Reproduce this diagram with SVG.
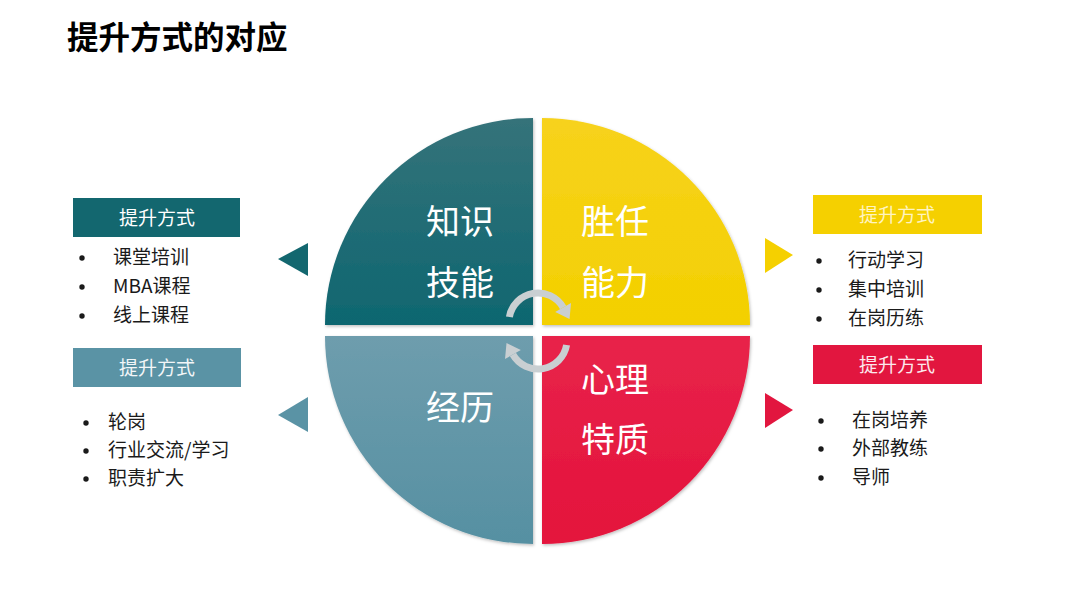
<svg xmlns="http://www.w3.org/2000/svg" width="1080" height="608" viewBox="0 0 1080 608">
<style>
.t{font-family:"Noto Sans CJK SC","Liberation Sans",sans-serif}
.title{font-size:31.5px;font-weight:bold;fill:#000}
.q{font-size:34px;fill:#fff;text-anchor:middle}
.bh{font-size:19px;text-anchor:middle}
.li{font-size:19px;fill:#1a1a1a}
.bu{fill:#1a1a1a}
.arc{fill:none;stroke:#C9CFD2;stroke-width:7}
.ah{fill:#C9CFD2}
</style>
<defs>
<linearGradient id="gTeal" x1="0" y1="0" x2="0" y2="1"><stop offset="0" stop-color="#35737A"/><stop offset="1" stop-color="#0E6670"/></linearGradient>
<linearGradient id="gYel" x1="0" y1="0" x2="0" y2="1"><stop offset="0" stop-color="#F7D21C"/><stop offset="1" stop-color="#F3D000"/></linearGradient>
<linearGradient id="gRed" x1="0" y1="0" x2="0" y2="1"><stop offset="0" stop-color="#E8244A"/><stop offset="1" stop-color="#E4123C"/></linearGradient>
<linearGradient id="gBlue" x1="0" y1="0" x2="0" y2="1"><stop offset="0" stop-color="#6E9DAD"/><stop offset="1" stop-color="#5690A2"/></linearGradient>
<filter id="sh" x="-10%" y="-10%" width="120%" height="120%"><feDropShadow dx="1" dy="1.5" stdDeviation="1.5" flood-color="#000" flood-opacity="0.25"/></filter>
</defs>
<rect width="1080" height="608" fill="#fff"/>
<text class="t title" x="67" y="49">提升方式的对应</text>

<g id="quad-knowledge">
<path d="M533,325 L325,325 A208,207 0 0 1 533,118 Z" fill="url(#gTeal)" filter="url(#sh)"/>
<text class="t q" x="460" y="234">知识</text>
<text class="t q" x="460" y="295">技能</text>
</g>
<g id="quad-competence">
<path d="M542,325 L542,118 A208,207 0 0 1 750,325 Z" fill="url(#gYel)" filter="url(#sh)"/>
<text class="t q" x="615" y="234">胜任</text>
<text class="t q" x="615" y="295">能力</text>
</g>
<g id="quad-psych">
<path d="M542,336 L750,336 A208,208 0 0 1 542,544 Z" fill="url(#gRed)" filter="url(#sh)"/>
<text class="t q" x="615" y="392">心理</text>
<text class="t q" x="615" y="452">特质</text>
</g>
<g id="quad-experience">
<path d="M533,336 L533,544 A208,208 0 0 1 325,336 Z" fill="url(#gBlue)" filter="url(#sh)"/>
<text class="t q" x="460" y="420">经历</text>
</g>

<g id="cycle-arrows">
<path class="arc" d="M509.4,317 A29,29 0 0 1 563.1,307.5"/>
<polygon class="ah" points="569.5,319 571,303 555.2,312"/>
<path class="arc" d="M566.6,345 A29,29 0 0 1 512.9,354.5"/>
<polygon class="ah" points="506.5,343 505,359 520.8,350"/>
</g>

<g id="box-knowledge">
<rect x="73" y="198" width="167" height="39" fill="#13676F"/>
<text class="t bh" x="157" y="225" fill="#fff">提升方式</text>
<circle class="bu" cx="82" cy="258" r="2.7"/><text class="t li" x="113" y="264">课堂培训</text>
<circle class="bu" cx="82" cy="287" r="2.7"/><text class="t li" x="113" y="293">MBA课程</text>
<circle class="bu" cx="82" cy="316" r="2.7"/><text class="t li" x="113" y="322">线上课程</text>
</g>
<g id="box-experience">
<rect x="73" y="348" width="168" height="39" fill="#5A93A5"/>
<text class="t bh" x="157" y="375" fill="#F2F6F8">提升方式</text>
<circle class="bu" cx="86" cy="423" r="2.7"/><text class="t li" x="108" y="429">轮岗</text>
<circle class="bu" cx="86" cy="451" r="2.7"/><text class="t li" x="108" y="457">行业交流/学习</text>
<circle class="bu" cx="86" cy="479" r="2.7"/><text class="t li" x="108" y="485">职责扩大</text>
</g>
<g id="box-competence">
<rect x="813" y="195" width="169" height="39" fill="#F5D000"/>
<text class="t bh" x="897" y="222" fill="#FFF4C0">提升方式</text>
<circle class="bu" cx="819" cy="261" r="2.7"/><text class="t li" x="848" y="267">行动学习</text>
<circle class="bu" cx="819" cy="290" r="2.7"/><text class="t li" x="848" y="296">集中培训</text>
<circle class="bu" cx="819" cy="319" r="2.7"/><text class="t li" x="848" y="325">在岗历练</text>
</g>
<g id="box-psych">
<rect x="813" y="345" width="169" height="39" fill="#E2163F"/>
<text class="t bh" x="897" y="372" fill="#FCE8EC">提升方式</text>
<circle class="bu" cx="821" cy="421" r="2.7"/><text class="t li" x="852" y="427">在岗培养</text>
<circle class="bu" cx="821" cy="449" r="2.7"/><text class="t li" x="852" y="455">外部教练</text>
<circle class="bu" cx="821" cy="478" r="2.7"/><text class="t li" x="852" y="484">导师</text>
</g>

<g id="connectors">
<polygon points="278,259 308,243 308,276" fill="#13676F"/>
<polygon points="278,415 308,397 308,432" fill="#5A93A5"/>
<polygon points="793,255 765,238 765,273" fill="#F5D000"/>
<polygon points="793,410 765,393 765,428" fill="#E2163F"/>
</g>
</svg>
